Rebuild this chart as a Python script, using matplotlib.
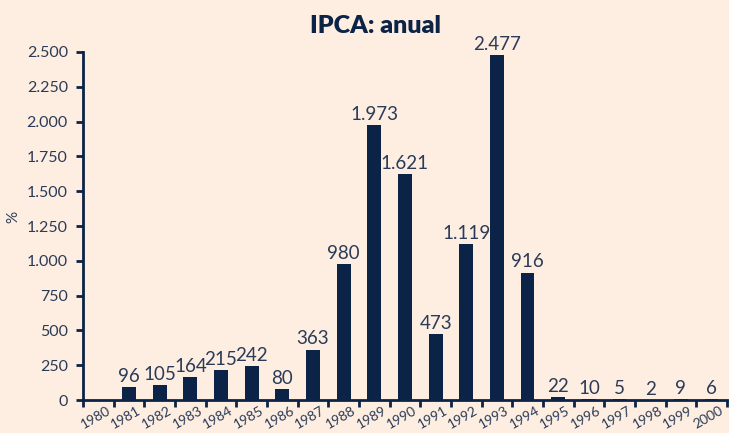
import numpy as np
import matplotlib
matplotlib.use("Agg")
import matplotlib.pyplot as plt
import matplotlib.transforms as mtransforms
from matplotlib.ticker import FuncFormatter, FixedLocator

anos = [str(a) for a in range(1980, 2001)]
ipca = [np.nan, 96, 105, 164, 215, 242, 80, 363, 980, 1973, 1621, 473,
        1119, 2477, 916, 22, 10, 5, 2, 9, 6]

navy = "#0B2347"
texto = "#2B3B57"
fundo = "#FDEEE1"

plt.rcParams['font.family'] = ['Lato', 'DejaVu Sans']


def fmt_br(v, pos=None):
    return f"{v:,.0f}".replace(",", ".")


fig = plt.figure(figsize=(7.29, 4.33), dpi=100, facecolor=fundo)
ax = fig.add_axes([0.114, 0.076, 0.883, 0.804], facecolor=fundo)

x = np.arange(len(anos))
ax.bar(x, np.nan_to_num(ipca), width=0.45, color=navy, zorder=2)

for xi, v in zip(x, ipca):
    if np.isnan(v):
        continue
    ax.text(xi, v + 15, fmt_br(v), ha='center', va='bottom',
            fontsize=13.5, color=texto)

ax.set_xlim(-0.5, len(anos) - 0.5)
ax.set_ylim(0, 2500)
ax.set_yticks(np.arange(0, 2501, 250))
ax.yaxis.set_major_formatter(FuncFormatter(fmt_br))

ax.set_xticks(x)
ax.set_xticklabels(anos, rotation=30, ha='right', rotation_mode='anchor')
ax.xaxis.set_minor_locator(FixedLocator(np.arange(-0.5, len(anos), 1)))
ax.tick_params(axis='x', which='major', length=0, pad=3, labelsize=10,
               labelcolor=texto)
desloc = mtransforms.ScaledTranslation(8 / 100, 0, fig.dpi_scale_trans)
for lab in ax.get_xticklabels():
    lab.set_transform(lab.get_transform() + desloc)
ax.tick_params(axis='x', which='minor', length=5, width=2, color=navy,
               direction='out')
ax.tick_params(axis='y', length=5, width=2, color=navy, labelsize=11.5,
               labelcolor=texto, pad=6)

for s in ['top', 'right']:
    ax.spines[s].set_visible(False)
for s in ['left', 'bottom']:
    ax.spines[s].set_color(navy)
    ax.spines[s].set_linewidth(2)

fig.text(0.018, 0.5, '%', rotation=90, ha='center', va='center',
         fontsize=11, color=texto)
fig.text(0.515, 0.94, 'IPCA: anual', ha='center', va='center',
         fontsize=18, fontweight='heavy', color=navy)

fig.savefig('out.png', dpi=100, facecolor=fundo)
